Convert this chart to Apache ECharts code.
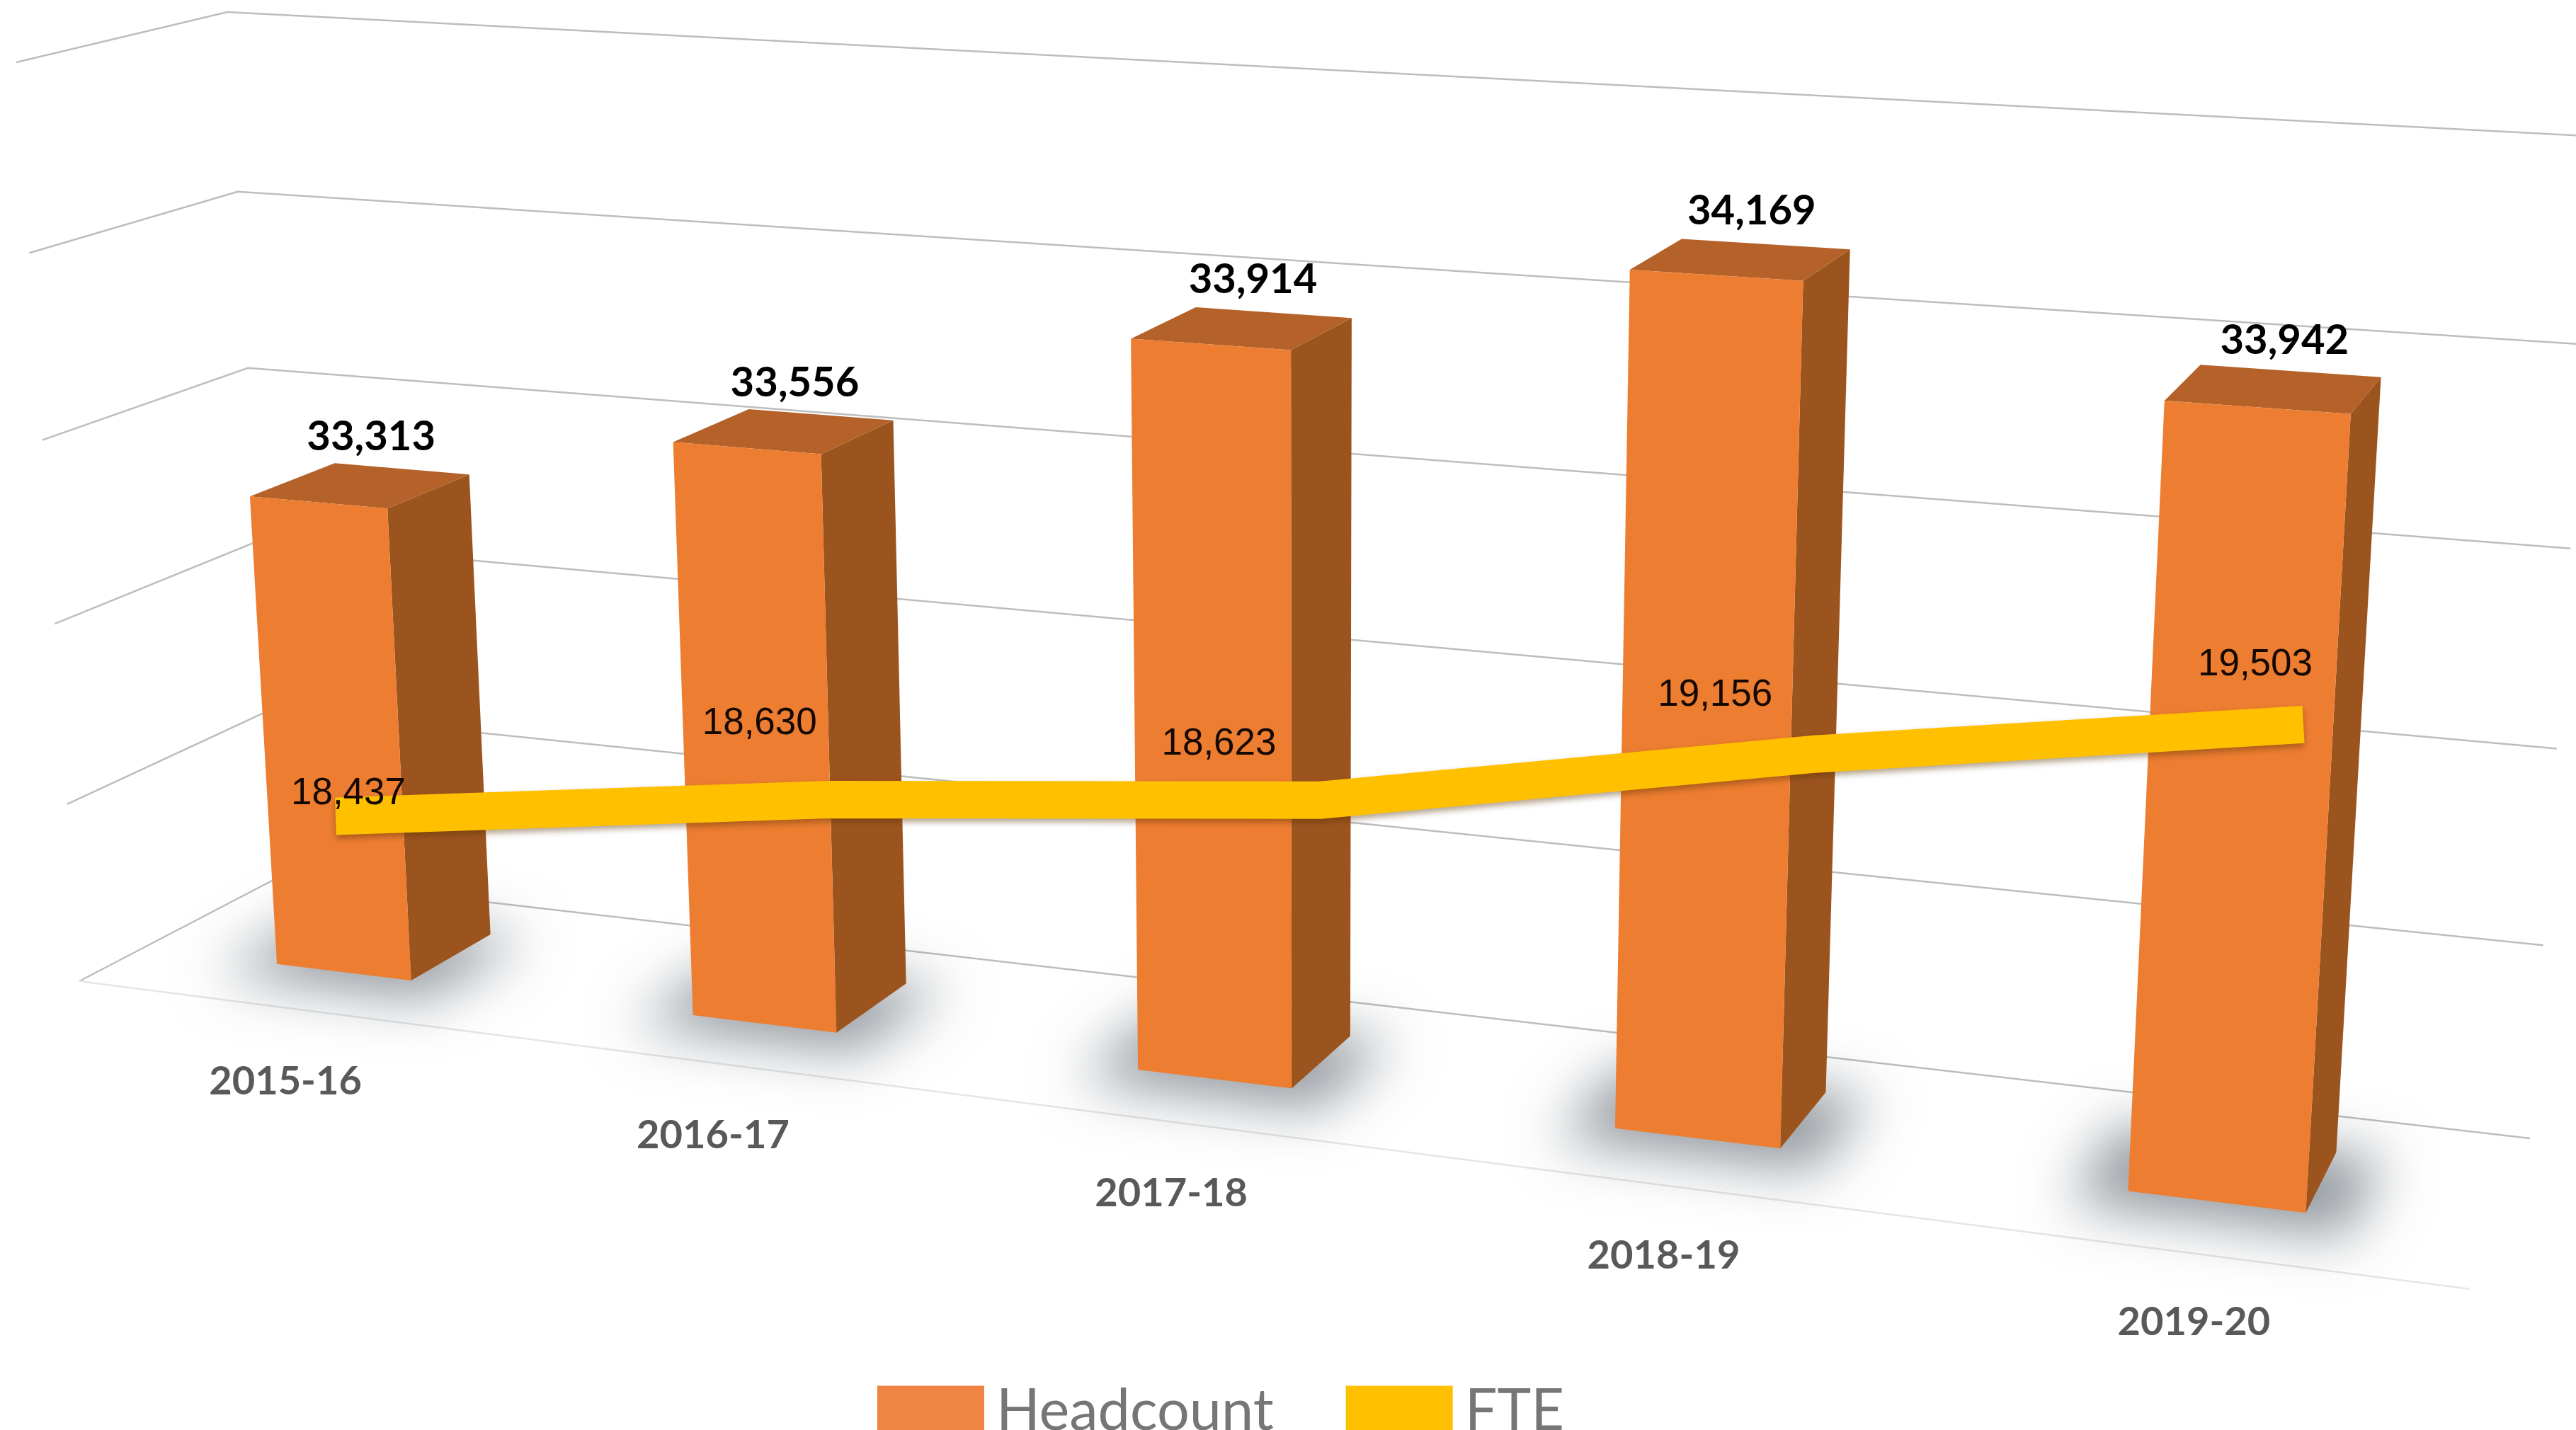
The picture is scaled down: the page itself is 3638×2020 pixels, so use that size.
<!DOCTYPE html>
<html>
<head>
    <meta charset="UTF-8">
    <script src="https://cdn.jsdelivr.net/npm/echarts@6/dist/echarts.min.js"></script>
    <style>
        html, body { margin: 0; padding: 0; background: #fff; }
        #main { width: 3638px; height: 2020px; }
    </style>
</head>
<body>
<div id="main"></div>
<script>
    var categories = ['2015-16', '2016-17', '2017-18', '2018-19', '2019-20'];
    var headcount = [33313, 33556, 33914, 34169, 33942];
    var fte = [18437, 18630, 18623, 19156, 19503];
    var yTicks = [32000, 32500, 33000, 33500, 34000, 34500];

    // the box of the 3D chart on screen: front-left, front-right, back-right, back-left
    var floorQuad = [[112, 1386], [3491, 1812], [3573, 1608], [392, 1240]];
    var topQuad = [[23, 88], [3591, 293.5], [3670, 193], [321, 17]];
    var riseBend = 0.955;      // verticals get slightly longer towards the top
    var barDepth = [0.31, 0.74];
    var barWidth = 0.33;       // share of a category band
    var fteLabelShift = [[18, -5], [-96, -80], [-142, -52], [-136, -56], [-68, -57]];

    function quadMap(q) {
        var x0 = q[0][0], y0 = q[0][1], x1 = q[1][0], y1 = q[1][1];
        var x2 = q[2][0], y2 = q[2][1], x3 = q[3][0], y3 = q[3][1];
        var sx = x0 - x1 + x2 - x3, sy = y0 - y1 + y2 - y3;
        var dx1 = x1 - x2, dx2 = x3 - x2, dy1 = y1 - y2, dy2 = y3 - y2;
        var den = dx1 * dy2 - dx2 * dy1;
        var g = (sx * dy2 - dx2 * sy) / den, h = (dx1 * sy - sx * dy1) / den;
        var a = x1 - x0 + g * x1, b = x3 - x0 + h * x3;
        var d = y1 - y0 + g * y1, e = y3 - y0 + h * y3;
        return function (u, w) {
            var k = g * u + h * w + 1;
            return [(a * u + b * w + x0) / k, (d * u + e * w + y0) / k];
        };
    }
    var floorMap = quadMap(floorQuad), topMap = quadMap(topQuad);

    // u across, w into the depth, t up the value axis (all 0..1)
    function project(u, w, t) {
        var b = floorMap(u, w), c = topMap(u, w);
        var k = (1 - t) + t * riseBend;
        return [
            (b[0] * (1 - t) + c[0] * t * riseBend) / k,
            (b[1] * (1 - t) + c[1] * t * riseBend) / k
        ];
    }

    function renderWall(params, api) {
        var t = 1 - api.coord([0, api.value(1)])[1] / 1000;
        var children = [{
            type: 'polyline',
            shape: { points: [project(0, 0, t), project(0, 1, t), project(1, 1, t)] },
            style: { fill: 'none', stroke: '#BDBDBD', lineWidth: 2.5 }
        }];
        if (params.dataIndex === 0) {
            children.push({
                type: 'line',
                shape: {
                    x1: project(0, 0, 0)[0], y1: project(0, 0, 0)[1],
                    x2: project(1, -0.04, 0)[0], y2: project(1, -0.04, 0)[1]
                },
                style: { stroke: '#E6E6E6', lineWidth: 2.5 }
            });
        }
        return { type: 'group', children: children };
    }

    function renderBar(params, api) {
        var p = api.coord([api.value(0), api.value(1)]);
        var band = api.size([1, 0])[0];
        var u0 = (p[0] - band * barWidth / 2) / 1000, u1 = (p[0] + band * barWidth / 2) / 1000;
        var t = 1 - p[1] / 1000;
        var w0 = barDepth[0], w1 = barDepth[1];
        var su = 0.018, sw = 0.12;
        var off = 6000;
        var shadowPts = [[u0 - su, w0 - sw], [u1 + su, w0 - sw], [u1 + su, w1], [u0 - su, w1]].map(function (a) {
            var s = project(a[0], a[1], 0);
            return [s[0] - off, s[1]];
        });
        var centre = project((u0 + u1) / 2, (w0 + w1) / 2, t);
        var front = project((u0 + u1) / 2, 0, 0);
        return {
            type: 'group',
            children: [
                {
                    type: 'polygon',
                    shape: { points: shadowPts },
                    style: { fill: '#000', shadowColor: 'rgba(70,80,90,0.6)', shadowBlur: 80, shadowOffsetX: off }
                },
                {
                    type: 'polygon',
                    shape: { points: [project(u1, w0, 0), project(u1, w1, 0), project(u1, w1, t), project(u1, w0, t)] },
                    style: { fill: '#9C541F' }
                },
                {
                    type: 'polygon',
                    shape: { points: [project(u0, w0, t), project(u1, w0, t), project(u1, w1, t), project(u0, w1, t)] },
                    style: { fill: '#B4622A' }
                },
                {
                    type: 'polygon',
                    shape: { points: [project(u0, w0, 0), project(u1, w0, 0), project(u1, w0, t), project(u0, w0, t)] },
                    style: { fill: '#ED7D31' }
                },
                {
                    type: 'text',
                    style: {
                        x: centre[0] + 15, y: centre[1] - 68,
                        text: echarts.format.addCommas(api.value(1)),
                        align: 'center', verticalAlign: 'middle',
                        font: 'bold 58px Lato', fill: '#000'
                    }
                },
                {
                    type: 'text',
                    style: {
                        x: front[0] + 4, y: front[1] + 106,
                        text: categories[params.dataIndex],
                        align: 'center', verticalAlign: 'middle',
                        font: 'bold 56px Lato', fill: '#595959'
                    }
                }
            ]
        };
    }

    var chart = echarts.init(document.getElementById('main'));
    chart.setOption({
        animation: false,
        backgroundColor: '#fff',
        legend: {
            data: ['Headcount', 'FTE'],
            left: 1234,
            top: 1948,
            icon: 'rect',
            itemWidth: 151,
            itemHeight: 72,
            itemGap: 102,
            textStyle: { fontFamily: 'Lato', fontSize: 81, color: '#767676', padding: [0, 0, 0, 12] }
        },
        // grid 0 is the flat value space of the 3D box, project() lays it on the screen
        grid: [
            { left: 0, top: 0, width: 1000, height: 1000 },
            { left: 474, top: 963, width: 2779, height: 243 }
        ],
        xAxis: [
            { gridIndex: 0, type: 'category', data: categories, show: false },
            { gridIndex: 1, type: 'category', data: categories, boundaryGap: false, show: false }
        ],
        yAxis: [
            { gridIndex: 0, type: 'value', min: 32000, max: 34500, interval: 500, show: false },
            { gridIndex: 1, type: 'value', min: 18000, max: 20000, show: false }
        ],
        series: [
            {
                type: 'custom',
                name: 'walls',
                xAxisIndex: 0,
                yAxisIndex: 0,
                z: 1,
                silent: true,
                renderItem: renderWall,
                data: yTicks.map(function (v) { return [0, v]; })
            },
            {
                type: 'custom',
                name: 'Headcount',
                xAxisIndex: 0,
                yAxisIndex: 0,
                z: 2,
                itemStyle: { color: '#F08444' },
                renderItem: renderBar,
                encode: { x: 0, y: 1 },
                data: headcount.map(function (v, i) { return [i, v]; })
            },
            {
                type: 'line',
                name: 'FTE',
                xAxisIndex: 1,
                yAxisIndex: 1,
                z: 3,
                symbol: 'circle',
                symbolSize: 1,
                showSymbol: true,
                itemStyle: { color: '#FFC000' },
                lineStyle: {
                    color: '#FFC000', width: 53, cap: 'butt', join: 'bevel',
                    shadowColor: 'rgba(90,50,0,0.45)', shadowBlur: 8, shadowOffsetY: 5
                },
                label: {
                    show: true, position: 'top', distance: 0,
                    fontFamily: 'Liberation Sans', fontSize: 53, color: '#140800',
                    formatter: function (d) { return echarts.format.addCommas(d.value); }
                },
                data: fte.map(function (v, i) {
                    return { value: v, label: { offset: fteLabelShift[i] } };
                })
            }
        ]
    });
</script>
</body>
</html>
